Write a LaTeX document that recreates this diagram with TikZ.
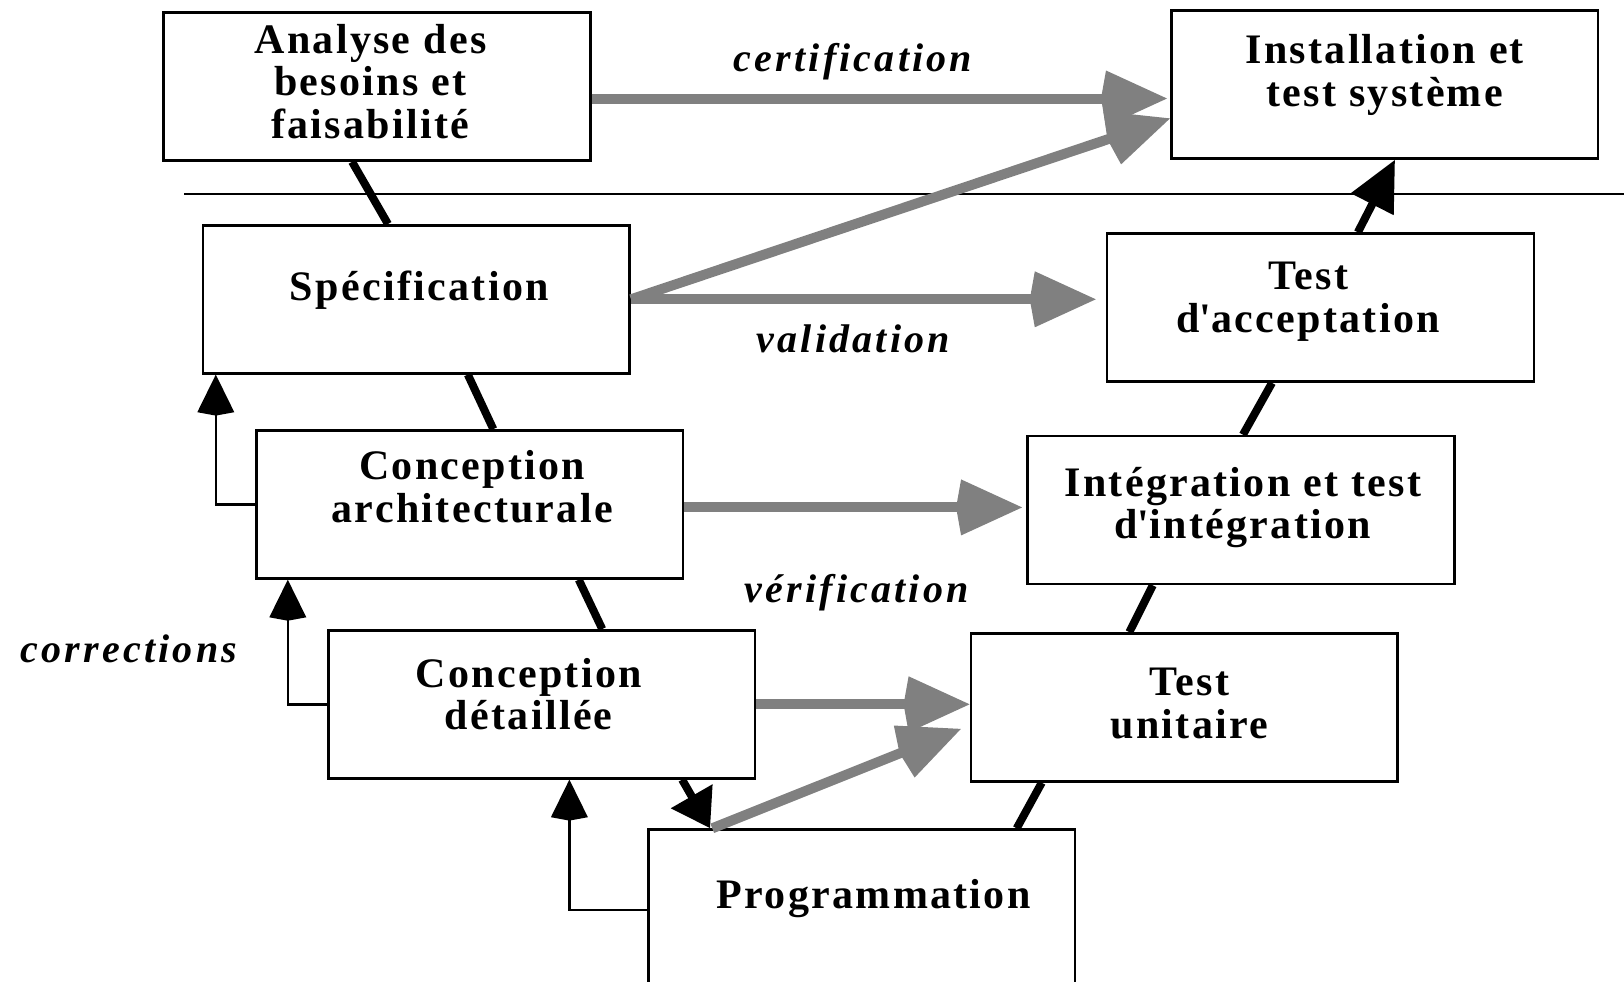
\documentclass[tikz,border=0pt]{standalone}
\usepackage{fontspec}
\setmainfont{Liberation Serif}[LetterSpace=5.5]
\newfontfamily\flowfont{Liberation Serif}[LetterSpace=8]
\usetikzlibrary{arrows.meta,calc}

\definecolor{flowgray}{RGB}{128,128,128}

\tikzset{
  phase/.style={draw, line width=1.3pt, minimum width=213.4pt, minimum height=74pt, inner sep=0pt},
  phasetext/.style={font=\fontsize{21}{21.3}\selectfont\bfseries, align=center, inner sep=0pt},
  flowlabel/.style={font=\flowfont\fontsize{20}{20}\selectfont\bfseries\itshape, anchor=base, inner sep=0pt},
  vstep/.style={line width=4pt},
  vhead/.style={line width=4pt, -{Triangle[length=#1, width=23pt]}},
  check/.style={color=flowgray, line width=5pt, -{Kite[length=33pt, width=28pt, inset=2.5pt]}},
  fix/.style={line width=1.3pt, -{Kite[length=20.5pt, width=18.5pt, inset=1.7pt]}},
}

\begin{document}
\begin{tikzpicture}[x=0.5pt, y=-0.5pt]
    \clip (0,0) rectangle (1624,981);

    % separator between system level and the rest
    \draw[line width=1pt] (184.4,193.7) -- (1624,193.7);

    % left branch of the V
    \node[phase, label={[phasetext, xshift=-3.3pt, yshift=2.6pt]center:Analyse des\\besoins et\\faisabilité}] (analyse) at (377,86.5) {};
    \node[phase, label={[phasetext, xshift=1.5pt, yshift=4.4pt]center:Spécification}] (spec) at (416.3,299.3) {};
    \node[phase, label={[phasetext, xshift=1.3pt, yshift=8.8pt]center:Conception\\architecturale}] (archi) at (469.7,504.4) {};
    \node[phase, label={[phasetext, xshift=-6.5pt, yshift=5pt]center:Conception\\détaillée}] (detail) at (541.7,704.3) {};
    \node[phase, minimum height=85pt, label={[phasetext, xshift=6pt, yshift=8pt]center:Programmation}] (prog) at (861.7,914.6) {};

    % right branch of the V
    \node[phase, label={[phasetext, xshift=2.6pt, yshift=2.1pt]center:Test\\unitaire}] (unit) at (1184.3,707.4) {};
    \node[phase, label={[phasetext, xshift=1pt, yshift=1.3pt]center:Intégration et test\\d\textquotesingle intégration}] (integ) at (1240.8,510) {};
    \node[phase, label={[phasetext, xshift=-6.2pt, yshift=2.9pt]center:Test\\d\textquotesingle acceptation}] (accept) at (1320.5,307.6) {};
    \node[phase, label={[phasetext, yshift=4.7pt]center:Installation et\\test système}] (install) at (1384.7,84.4) {};

    % the V itself
    \draw[vstep] ($(analyse.south west)!.442!(analyse.south east)$) -- ($(spec.north west)!.434!(spec.north east)$);
    \draw[vstep] ($(spec.south west)!.62!(spec.south east)$) -- ($(archi.north west)!.555!(archi.north east)$);
    \draw[vstep] ($(archi.south west)!.754!(archi.south east)$) -- ($(detail.north west)!.641!(detail.north east)$);
    \draw[vhead=18.5pt] ($(detail.south west)!.827!(detail.south east)$) -- ($(prog.north west)!.147!(prog.north east)$);
    \draw[vstep] ($(prog.north west)!.861!(prog.north east)$) -- ($(unit.south west)!.168!(unit.south east)$);
    \draw[vstep] ($(unit.north west)!.372!(unit.north east)$) -- ($(integ.south west)!.295!(integ.south east)$);
    \draw[vstep] ($(integ.north west)!.505!(integ.north east)$) -- ($(accept.south west)!.387!(accept.south east)$);
    \draw[vhead=25pt] ($(accept.north west)!.587!(accept.north east)$) -- ($(install.south west)!.524!(install.south east)$);

    % certification, validation, verification
    \draw[check, shorten >=1.5pt] ([yshift=-6pt]analyse.east) coordinate (c1) -- (c1 -| install.west);
    \draw[check] (spec.east) -- ([yshift=-17pt]install.west);
    \draw[check, shorten >=5pt] (spec.east) -- (spec.east -| accept.west);
    \draw[check, shorten >=2pt] ([yshift=-1.5pt]archi.east) coordinate (c2) -- (c2 -| integ.west);
    \draw[check] (detail.east) -- (detail.east -| unit.west);
    \draw[check, shorten >=4.7pt] ($(prog.north west)!.152!(prog.north east)$) -- ([yshift=-9pt]unit.west);

    % corrections going back up
    \draw[fix] (archi.west) -- ++(-19.6pt,0) coordinate (k1) -- (k1 |- spec.south);
    \draw[fix] (detail.west) -- ++(-19.6pt,0) coordinate (k2) -- (k2 |- archi.south);
    \draw[fix] ([yshift=2.3pt]prog.west) -- ++(-38.8pt,0) coordinate (k3) -- (k3 |- detail.south);

    \node[flowlabel] (certif-lbl) at (853,71) {certification};
    \node[flowlabel] (valid-lbl) at (853.3,352) {validation};
    \node[flowlabel] (verif-lbl) at (856.7,602) {vérification};
    \node[flowlabel] (corr-lbl) at (129,662.5) {corrections};
\end{tikzpicture}
\end{document}
